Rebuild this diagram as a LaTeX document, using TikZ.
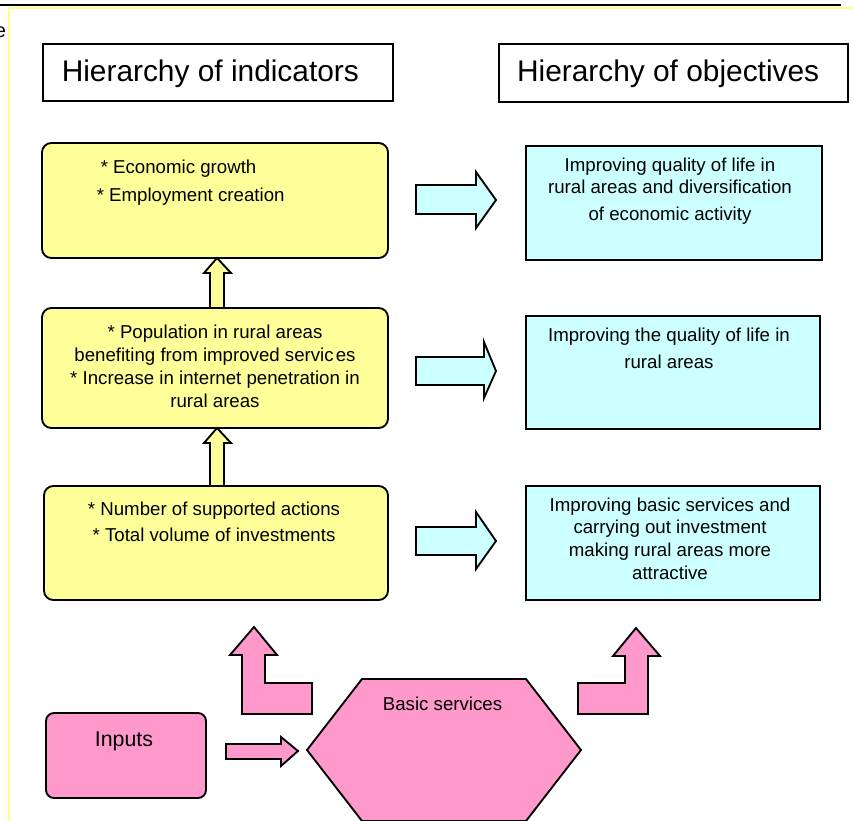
\documentclass[tikz,border=0pt]{standalone}
\usepackage{fontspec}
\setmainfont{Liberation Sans}
\definecolor{indfill}{HTML}{FFFF99}
\definecolor{objfill}{HTML}{CCFFFF}
\definecolor{inpfill}{HTML}{FF99CC}
\definecolor{framey}{HTML}{FFFF88}
\begin{document}
\begin{tikzpicture}[x=0.75pt,y=-0.75pt,line join=miter,
  outline/.style={draw=black,line width=1.4pt},
  titlebox/.style={outline,fill=white,inner sep=0pt},
  indbox/.style={outline,fill=indfill,rounded corners=7pt,inner sep=0pt},
  objbox/.style={outline,fill=objfill,inner sep=0pt},
  inpbox/.style={outline,fill=inpfill,rounded corners=6pt,inner sep=0pt},
  indarrow/.style={outline,fill=indfill},
  objarrow/.style={outline,fill=objfill},
  inparrow/.style={outline,fill=inpfill},
  txt/.style={font=\fontsize{14pt}{#1}\selectfont,align=center,inner sep=0pt,anchor=north},
  line/.style={font=\fontsize{14pt}{17pt}\selectfont,inner sep=0pt},
  heading/.style={font=\fontsize{22.4pt}{26pt}\selectfont,inner sep=0pt,anchor=base west}]
\useasboundingbox (0,0) rectangle (854,821);

% page frame
\draw[black,line width=1.5pt] (0,5) -- (841,5);
\draw[framey,line width=1.3pt] (854,8) -- (9,8) -- (9,821);
\node[font=\fontsize{15pt}{18pt}\selectfont,inner sep=0pt,anchor=base west] (edgee) at (-5.5,37.5) {e};

% column headings
\node[titlebox,minimum width={350*0.75pt},minimum height={57*0.75pt}] (thi) at (218,72.5) {};
\node[heading] (thitxt) at (61.5,81.7) {Hierarchy of indicators};
\node[titlebox,minimum width={349*0.75pt},minimum height={58*0.75pt}] (tho) at (673.5,73) {};
\node[heading] (thotxt) at (516.8,81) {Hierarchy of objectives};

% indicators
\node[indbox,minimum width={346*0.75pt},minimum height={115*0.75pt}] (ind1) at (215,200.5) {};
\node[indbox,minimum width={346*0.75pt},minimum height={120*0.75pt}] (ind2) at (215,368) {};
\node[indbox,minimum width={344*0.75pt},minimum height={114*0.75pt}] (ind3) at (216,543) {};

\node[line,anchor=base west] (ind1a) at (100.5,173) {* Economic growth};
\node[line,anchor=base west] (ind1b) at (96.5,201) {* Employment creation};
\node[txt=17.25pt] (ind2txt) at (215,324.4) {* Population in rural areas\\benefiting from improved servic\kern1.6pt es\\* Increase in internet penetration in\\rural areas};
\node[txt=19.5pt] (ind3txt) at (214,501.4) {* Number of supported actions\\* Total volume of investments};

% upward arrows between indicator levels
\draw[indarrow] (217,258) -- (231,273) -- (224,273) -- (224,308) -- (210,308) -- (210,273) -- (204,273) -- cycle;
\draw[indarrow] (217,428) -- (231,443) -- (224,443) -- (224,486) -- (210,486) -- (210,443) -- (204,443) -- cycle;

% objectives
\node[objbox,minimum width={296*0.75pt},minimum height={114*0.75pt}] (obj1) at (674,203) {};
\node[objbox,minimum width={294*0.75pt},minimum height={113*0.75pt}] (obj2) at (673,372.5) {};
\node[objbox,minimum width={294*0.75pt},minimum height={114*0.75pt}] (obj3) at (673,543) {};

\node[txt=16.5pt] (obj1txt) at (670,157.4) {Improving quality of life in\\rural areas and diversification\\[3.75pt]of economic activity};
\node[txt=20.25pt] (obj2txt) at (669,327.4) {Improving the quality of life in\\rural areas};
\node[txt=17pt] (obj3txt) at (670,497.4) {Improving basic services and\\carrying out investment\\making rural areas more\\attractive};

% arrows from indicators to objectives
\draw[objarrow] (416,185) -- (476,185) -- (476,172) -- (496,200) -- (476,228) -- (476,214) -- (416,214) -- cycle;
\draw[objarrow] (416,357) -- (484,357) -- (484,342) -- (496,371) -- (484,398) -- (484,385) -- (416,385) -- cycle;
\draw[objarrow] (416,527) -- (476,527) -- (476,512) -- (496,541) -- (476,569) -- (476,555) -- (416,555) -- cycle;

% inputs and basic services
\node[inpbox,minimum width={160*0.75pt},minimum height={85*0.75pt}] (inputs) at (126,755.5) {};
\node[font=\fontsize{16pt}{19pt}\selectfont,inner sep=0pt,anchor=base] (inputstxt) at (124,746) {Inputs};
\draw[inparrow] (226,744) -- (281,744) -- (281,737) -- (298,751) -- (281,766) -- (281,759) -- (226,759) -- cycle;
\draw[inparrow] (307,750) -- (362,679) -- (526,679) -- (581,750) -- (526,821) -- (362,821) -- cycle;
\node[line,anchor=base] (basic) at (442.5,710) {Basic services};

% bent arrows up to the indicator and objective columns
\draw[inparrow] (254,627) -- (277,655) -- (265,655) -- (265,683) -- (312,683) -- (312,714) -- (242,714) -- (242,655) -- (230,655) -- cycle;
\draw[inparrow] (636,628) -- (660,656) -- (648,656) -- (648,714) -- (578,714) -- (578,683) -- (625,683) -- (625,656) -- (613,656) -- cycle;
\end{tikzpicture}
\end{document}
